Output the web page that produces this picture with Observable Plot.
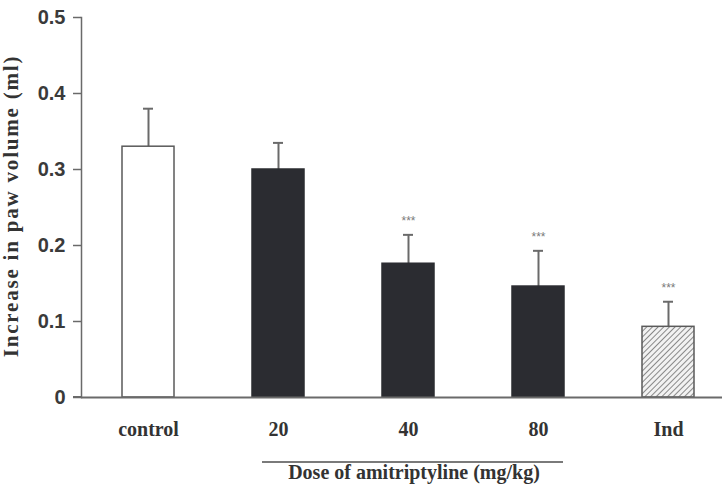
<!DOCTYPE html>
<html>
<head>
<meta charset="utf-8">
<script src="https://cdn.jsdelivr.net/npm/d3@7"></script>
<script src="https://cdn.jsdelivr.net/npm/@observablehq/plot@0.6"></script>
<style>
  html, body { margin: 0; padding: 0; background: #fff; }
</style>
</head>
<body>
<div id="chart"></div>
<script>
// Data
const groups = ["control", "20", "40", "80", "Ind"];
const means = [0.33, 0.30, 0.176, 0.146, 0.093];
const errors = [0.05, 0.035, 0.038, 0.047, 0.033];
const significance = ["", "", "***", "***", "***"];
const kinds = ["control", "drug", "drug", "drug", "reference"];
const yTicks = [0, 0.1, 0.2, 0.3, 0.4, 0.5];
const xTitle = "Dose of amitriptyline (mg/kg)";
const yTitle = "Increase in paw volume (ml)";

const data = groups.map((g, i) => ({
  group: g, mean: means[i], err: errors[i], top: means[i] + errors[i],
  sig: significance[i], kind: kinds[i]
}));

const fills = {control: "#ffffff", drug: "#2b2c31", reference: "url(#hatch)"};
const strokes = {control: "#5a5a5a", drug: "#2b2c31", reference: "#5a5a5a"};

const axisColor = "#6a6a6a";
const serif = "'Liberation Serif', 'Times New Roman', serif";
const sans = "'Liberation Sans', Arial, sans-serif";

const plot = Plot.plot({
  width: 722,
  height: 493,
  marginLeft: 81,
  marginRight: 0,
  marginTop: 17,
  marginBottom: 96,
  style: {background: "#fff", overflow: "visible"},
  x: {domain: groups, paddingInner: 0.6, paddingOuter: 0.247, align: 0.59},
  y: {domain: [0, 0.5]},
  marks: [
    Plot.axisY({
      ticks: yTicks, tickSize: 8, tickPadding: 8, label: null,
      stroke: axisColor, strokeWidth: 1.5, fill: "#3a3a3a",
      fontFamily: sans, fontWeight: "bold", fontSize: 20,
      tickFormat: d => d === 0 ? "0" : d3.format(".1f")(d)
    }),
    Plot.axisX({
      tickSize: 0, tickPadding: 24, label: null,
      fill: "#333", fontFamily: serif, fontWeight: "bold", fontSize: 20
    }),
    Plot.frame({anchor: "left", stroke: axisColor, strokeWidth: 1.5}),
    Plot.ruleX(data, {x: "group", y1: "mean", y2: "top", stroke: "#6a6a6a", strokeWidth: 2}),
    Plot.tickY(data, {x: "group", y: "top", stroke: "#6a6a6a", strokeWidth: 2, insetLeft: 21, insetRight: 21}),
    Plot.barY(data, {
      x: "group", y: "mean",
      fill: d => fills[d.kind], stroke: d => strokes[d.kind], strokeWidth: 1.5
    }),
    Plot.text(data, {
      x: "group", y: "top", text: "sig", dy: -14,
      fill: "#7a7a7a", fontSize: 12, fontFamily: sans
    }),
    Plot.ruleY([0], {stroke: axisColor, strokeWidth: 2})
  ]
});

const svg = d3.select(plot);

// Hatch pattern for the reference (indomethacin) bar
const defs = svg.insert("defs", ":first-child");
const pat = defs.append("pattern")
  .attr("id", "hatch")
  .attr("patternUnits", "userSpaceOnUse")
  .attr("width", 4).attr("height", 4)
  .attr("patternTransform", "rotate(45)");
pat.append("rect").attr("width", 4).attr("height", 4).attr("fill", "#f2f2f2");
pat.append("line").attr("x1", 0).attr("y1", 0).attr("x2", 0).attr("y2", 4)
  .attr("stroke", "#6e6e6e").attr("stroke-width", 1.6);

// Extend baseline slightly to the left of the axis, as in the original
svg.append("line")
  .attr("x1", 73).attr("x2", 81).attr("y1", 397).attr("y2", 397)
  .attr("stroke", axisColor).attr("stroke-width", 2);

// Group annotation line and title for the dose groups
svg.append("line")
  .attr("x1", 262).attr("x2", 563).attr("y1", 462).attr("y2", 462)
  .attr("stroke", "#7a7a7a").attr("stroke-width", 2);
svg.append("text")
  .attr("x", 414).attr("y", 479)
  .attr("text-anchor", "middle")
  .attr("font-family", serif).attr("font-weight", "bold").attr("font-size", 20)
  .attr("fill", "#333")
  .text(xTitle);

// Y-axis title
svg.append("text")
  .attr("transform", "translate(11,206) rotate(-90)")
  .attr("text-anchor", "middle")
  .attr("dominant-baseline", "central")
  .attr("font-family", serif).attr("font-weight", "bold").attr("font-size", 21)
  .attr("letter-spacing", 1.8)
  .attr("fill", "#333")
  .text(yTitle);

document.getElementById("chart").appendChild(plot);
</script>
</body>
</html>
